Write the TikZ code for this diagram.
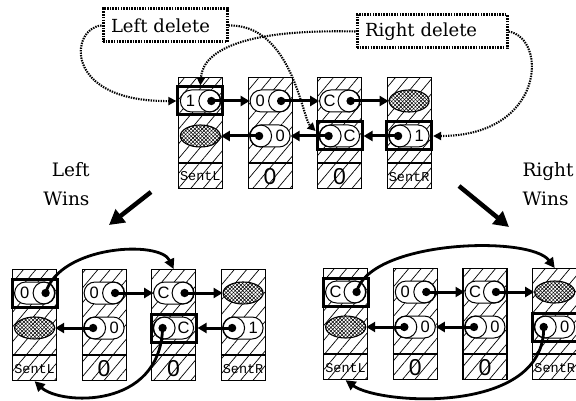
\documentclass[tikz,border=0pt]{standalone}
\usepackage{fontspec}
\setmainfont{DejaVu Serif}
\newfontfamily\typefont{Liberation Mono}
\newfontfamily\digitfont{Liberation Sans}
\usetikzlibrary{patterns.meta,arrows.meta,shapes.geometric,calc}

\tikzset{
  cellbox/.style={draw, line width=1.2pt, minimum width=44pt, minimum height=111pt,
    inner sep=0pt, anchor=north west,
    pattern={Lines[angle=50,distance=9.5pt,line width=0.7pt]}},
  capsule/.style={draw, line width=1pt, fill=white, rounded corners=11pt,
    minimum width=40pt, minimum height=22pt, inner sep=0pt},
  capline/.style={line width=1pt},
  caplabel/.style={font=\digitfont\fontsize{16.5}{16.5}\selectfont, inner sep=0pt},
  nilcell/.style={ellipse, draw, line width=1.1pt, minimum width=40pt, minimum height=22pt,
    inner sep=0pt, preaction={fill=white},
    preaction={pattern={Lines[angle=45,distance=2.6pt,line width=0.55pt]}},
    preaction={pattern={Lines[angle=-45,distance=2.6pt,line width=0.55pt]}}},
  boldbox/.style={draw, line width=3pt, minimum width=45pt, minimum height=28pt, inner sep=0pt},
  sentlabel/.style={font=\typefont\fontsize{13.5}{13.5}\selectfont, inner sep=0pt},
  zerolabel/.style={font=\digitfont\fontsize{23}{23}\selectfont, inner sep=0pt},
  ptr/.style={line width=3pt, -{Triangle[length=9pt,width=10pt]}},
  jump/.style={line width=2.8pt, -{Triangle[length=10pt,width=10pt]}},
  hint/.style={line width=2.1pt, dash pattern=on 1.4pt off 1.1pt, -{Triangle[length=8pt,width=8pt]}},
  delbox/.style={draw, line width=3pt, dash pattern=on 1.6pt off 1.1pt,
    font=\fontsize{18}{18}\selectfont, minimum height=33pt, inner xsep=8pt, align=left},
  winlabel/.style={font=\fontsize{18.5}{29}\selectfont},
  win/.style={line width=4.5pt, -{Triangle[length=15pt,width=16pt]}}
}

% one list cell: name, left x, top y, label style, label text
\newcommand\listcell[5]{%
  \node[cellbox] (#1) at (#2,#3) {};
  \draw[line width=1.1pt] ([yshift=-86pt]#1.north west) -- ([yshift=-86pt]#1.north east);
  \node[#4] (#1-lbl) at ([yshift=12.5pt]#1.south) {#5};
}
% forward pointer: name, cell, text
\newcommand\nextcap[3]{%
  \node[capsule] (#1) at ([yshift=-24pt]#2.north) {};
  \draw[capline] ([xshift=-11pt]#1.east) circle[radius=11pt];
  \coordinate (#1-dot) at ([xshift=-9.5pt]#1.east);
  \fill (#1-dot) circle[radius=4.2pt];
  \node[caplabel] (#1-txt) at ([xshift=10.5pt]#1.west) {#3};
}
% backward pointer: name, cell, text
\newcommand\prevcap[3]{%
  \node[capsule] (#1) at ([yshift=-59pt]#2.north) {};
  \draw[capline] ([xshift=11pt]#1.west) circle[radius=11pt];
  \coordinate (#1-dot) at ([xshift=9.5pt]#1.west);
  \fill (#1-dot) circle[radius=4.2pt];
  \node[caplabel] (#1-txt) at ([xshift=-10.5pt]#1.east) {#3};
}
% end-of-list marker: name, cell, offset from the cell top
\newcommand\nilmark[3]{%
  \node[nilcell] (#1) at ([yshift=-#3]#2.north) {};
}

\begin{document}
\begin{tikzpicture}[x=1pt,y=-1pt]
\useasboundingbox (0,0) rectangle (576,401);

% ---------- list before the two deletes ----------
\listcell{t1}{178}{77}{sentlabel}{SentL}
\listcell{t2}{247.5}{77}{zerolabel}{0}
\listcell{t3}{317}{77}{zerolabel}{0}
\listcell{t4}{386.5}{77}{sentlabel}{SentR}
\nextcap{t1n}{t1}{1}
\nilmark{t1p}{t1}{59pt}
\nextcap{t2n}{t2}{0}
\prevcap{t2p}{t2}{0}
\nextcap{t3n}{t3}{C}
\prevcap{t3p}{t3}{C}
\nilmark{t4n}{t4}{24pt}
\prevcap{t4p}{t4}{1}
\node[boldbox] (t1b) at (t1n) {};
\node[boldbox] (t3b) at (t3p) {};
\node[boldbox] (t4b) at (t4p) {};
\draw[ptr] (t1n-dot) -- (t2n.west);
\draw[ptr] (t2n-dot) -- (t3n.west);
\draw[ptr] (t3n-dot) -- (t4n.west);
\draw[ptr] (t2p-dot) -- (t1p.east);
\draw[ptr] (t3p-dot) -- (t2p.east);
\draw[ptr] (t4p-dot) -- (t3b.east);

% ---------- the two concurrent deletes ----------
\node[delbox, text width=108pt] (ldel) at (165,25.5) {Left delete};
\node[delbox, text width=134pt] (rdel) at (432,31.5) {Right delete};
\draw[hint] (ldel.west) .. controls (70,28) and (62,102) .. (t1b.west);
\draw[hint] (ldel.east) .. controls (292,24) and (302,118) .. ([yshift=5pt]t3b.west);
\draw[hint] (rdel.west) .. controls (250,29) and (203,48) .. (t1b.north);
\draw[hint] (rdel.east) .. controls (548,38) and (545,136) .. (t4b.east);

% ---------- outcomes ----------
\node[winlabel, align=right, anchor=east] (lwins) at (93,184) {Left\\Wins};
\node[winlabel, align=left, anchor=west] (rwins) at (519,184) {Right\\Wins};
\coordinate (lwa) at (151,192);
\coordinate (lwb) at (109,225);
\coordinate (rwa) at (459,186);
\coordinate (rwb) at (509,227);
\draw[win] (lwa) -- (lwb);
\draw[win] (rwa) -- (rwb);

% ---------- list after the left delete wins ----------
\listcell{l1}{12}{269}{sentlabel}{SentL}
\listcell{l2}{81.5}{269}{zerolabel}{0}
\listcell{l3}{151}{269}{zerolabel}{0}
\listcell{l4}{220.5}{269}{sentlabel}{SentR}
\nextcap{l1n}{l1}{0}
\nilmark{l1p}{l1}{59pt}
\nextcap{l2n}{l2}{0}
\prevcap{l2p}{l2}{0}
\nextcap{l3n}{l3}{C}
\prevcap{l3p}{l3}{C}
\nilmark{l4n}{l4}{24pt}
\prevcap{l4p}{l4}{1}
\node[boldbox] (l1b) at (l1n) {};
\node[boldbox] (l3b) at (l3p) {};
\draw[ptr] (l2n-dot) -- (l3n.west);
\draw[ptr] (l3n-dot) -- (l4n.west);
\draw[ptr] (l2p-dot) -- (l1p.east);
\draw[ptr] (l4p-dot) -- (l3b.east);
\draw[jump] (l1n-dot) .. controls (60,245) and (160,240) .. (l3.north);
\draw[jump] (l3p-dot) .. controls (160,410) and (60,405) .. (l1.south);

% ---------- list after the right delete wins ----------
\listcell{r1}{323}{268}{sentlabel}{SentL}
\listcell{r2}{392.7}{268}{zerolabel}{0}
\listcell{r3}{462.4}{268}{zerolabel}{0}
\listcell{r4}{532.1}{268}{sentlabel}{SentR}
\nextcap{r1n}{r1}{C}
\nilmark{r1p}{r1}{59pt}
\nextcap{r2n}{r2}{0}
\prevcap{r2p}{r2}{0}
\nextcap{r3n}{r3}{C}
\prevcap{r3p}{r3}{0}
\nilmark{r4n}{r4}{24pt}
\prevcap{r4p}{r4}{0}
\node[boldbox] (r1b) at (r1n) {};
\node[boldbox] (r4b) at (r4p) {};
\draw[ptr] (r2n-dot) -- (r3n.west);
\draw[ptr] (r3n-dot) -- (r4n.west);
\draw[ptr] (r2p-dot) -- (r1p.east);
\draw[ptr] (r3p-dot) -- (r2p.east);
\draw[jump] (r1n-dot) .. controls (370,240) and (530,235) .. (r4.north);
\draw[jump] (r4p-dot) .. controls (545,415) and (380,405) .. (r1.south);
\end{tikzpicture}
\end{document}
